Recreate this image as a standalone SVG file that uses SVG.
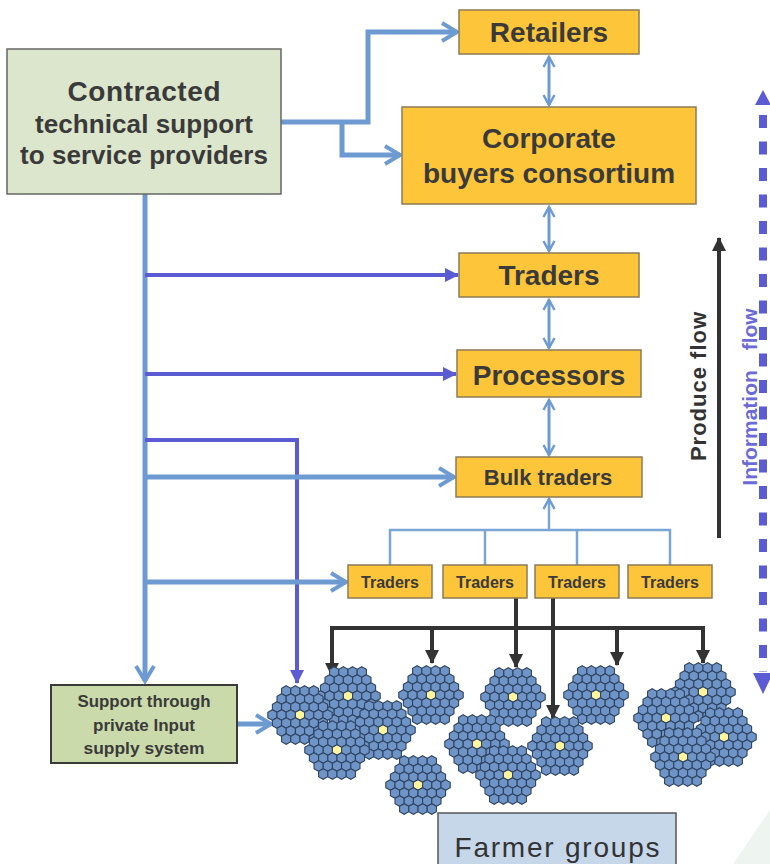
<svg xmlns="http://www.w3.org/2000/svg" xmlns:xlink="http://www.w3.org/1999/xlink" width="770" height="864" viewBox="0 0 770 864">
<style>
.t{font-family:"Liberation Sans",Arial,sans-serif;font-weight:bold;fill:#3a3a3a;text-anchor:middle}
.yb{fill:#fcc53a;stroke:#8c7b55;stroke-width:1.5}
.lb{fill:none;stroke:#6d9bd1;stroke-width:5}
.lbt{fill:none;stroke:#6d9bd1;stroke-width:3}
.tr{fill:none;stroke:#7aa6d6;stroke-width:2.5}
.pu{fill:none;stroke:#5b5bd4;stroke-width:4}
.bk{fill:none;stroke:#333;stroke-width:4}
.hx{fill:#6f95c8;stroke:#2f4460;stroke-width:1.1}
.hy{fill:#fff59d;stroke:#2f4460;stroke-width:1.1}
</style>
<defs>
<marker id="chL" markerUnits="userSpaceOnUse" viewBox="0 0 22 22" markerWidth="22" markerHeight="22" refX="19" refY="11" orient="auto-start-reverse"><path d="M4,2 L19,11 L4,20" fill="none" stroke="#6d9bd1" stroke-width="4"/></marker>
<marker id="chS" markerUnits="userSpaceOnUse" viewBox="0 0 14 14" markerWidth="14" markerHeight="14" refX="12" refY="7" orient="auto-start-reverse"><path d="M2,1.5 L12,7 L2,12.5" fill="none" stroke="#6d9bd1" stroke-width="2.5"/></marker>
<marker id="trP" markerUnits="userSpaceOnUse" viewBox="0 0 14 14" markerWidth="14" markerHeight="14" refX="13" refY="7" orient="auto"><path d="M0,0 L14,7 L0,14 Z" fill="#5b5bd4"/></marker>
<marker id="trK" markerUnits="userSpaceOnUse" viewBox="0 0 14 14" markerWidth="14" markerHeight="14" refX="13" refY="7" orient="auto"><path d="M0,0 L14,7 L0,14 Z" fill="#333"/></marker>
<polygon id="h" class="hx" points="0,-5.3 4.6,-2.65 4.6,2.65 0,5.3 -4.6,2.65 -4.6,-2.65"/>
<polygon id="hyel" class="hy" points="0,-5.3 4.6,-2.65 4.6,2.65 0,5.3 -4.6,2.65 -4.6,-2.65"/>
<g id="cl">
<use xlink:href="#h" x="-13.8" y="-24"/><use xlink:href="#h" x="-4.6" y="-24"/><use xlink:href="#h" x="4.6" y="-24"/><use xlink:href="#h" x="13.8" y="-24"/>
<use xlink:href="#h" x="-18.4" y="-16"/><use xlink:href="#h" x="-9.2" y="-16"/><use xlink:href="#h" x="0" y="-16"/><use xlink:href="#h" x="9.2" y="-16"/><use xlink:href="#h" x="18.4" y="-16"/>
<use xlink:href="#h" x="-23" y="-8"/><use xlink:href="#h" x="-13.8" y="-8"/><use xlink:href="#h" x="-4.6" y="-8"/><use xlink:href="#h" x="4.6" y="-8"/><use xlink:href="#h" x="13.8" y="-8"/><use xlink:href="#h" x="23" y="-8"/>
<use xlink:href="#h" x="-27.6" y="0"/><use xlink:href="#h" x="-18.4" y="0"/><use xlink:href="#h" x="-9.2" y="0"/><use xlink:href="#hyel" x="0" y="0"/><use xlink:href="#h" x="9.2" y="0"/><use xlink:href="#h" x="18.4" y="0"/><use xlink:href="#h" x="27.6" y="0"/>
<use xlink:href="#h" x="-23" y="8"/><use xlink:href="#h" x="-13.8" y="8"/><use xlink:href="#h" x="-4.6" y="8"/><use xlink:href="#h" x="4.6" y="8"/><use xlink:href="#h" x="13.8" y="8"/><use xlink:href="#h" x="23" y="8"/>
<use xlink:href="#h" x="-18.4" y="16"/><use xlink:href="#h" x="-9.2" y="16"/><use xlink:href="#h" x="0" y="16"/><use xlink:href="#h" x="9.2" y="16"/><use xlink:href="#h" x="18.4" y="16"/>
<use xlink:href="#h" x="-13.8" y="24"/><use xlink:href="#h" x="-4.6" y="24"/><use xlink:href="#h" x="4.6" y="24"/><use xlink:href="#h" x="13.8" y="24"/>
</g>
</defs>
<rect x="0" y="0" width="770" height="864" fill="#ffffff"/>
<polygon points="733,864 770,810 770,864" fill="#eef5f1"/>

<g id="connectors">
<path class="lb" d="M281,122 H368 V32 H457" marker-end="url(#chL)"/>
<path class="lb" d="M342,122 V155 H400" marker-end="url(#chL)"/>
<path class="lb" d="M145,194 V681" marker-end="url(#chL)"/>
<path class="pu" d="M145,275 H458" marker-end="url(#trP)"/>
<path class="pu" d="M145,374 H456" marker-end="url(#trP)"/>
<path class="pu" d="M145,440 H297 V683" marker-end="url(#trP)"/>
<path class="lb" d="M145,477 H454" marker-end="url(#chL)"/>
<path class="lb" d="M145,582 H346" marker-end="url(#chL)"/>
<path class="lb" d="M237,724 H271" marker-end="url(#chL)"/>
<path class="lbt" d="M549,57 V105" marker-start="url(#chS)" marker-end="url(#chS)"/>
<path class="lbt" d="M549,207 V251" marker-start="url(#chS)" marker-end="url(#chS)"/>
<path class="lbt" d="M549,300 V348" marker-start="url(#chS)" marker-end="url(#chS)"/>
<path class="lbt" d="M549,400 V455" marker-start="url(#chS)" marker-end="url(#chS)"/>
<path class="tr" d="M549,530 V499" marker-end="url(#chS)"/>
<path class="tr" d="M390,565 V530 H670 V565 M485,530 V565 M577,530 V565"/>
<path class="bk" d="M516,598 V667" marker-end="url(#trK)"/>
<path class="bk" d="M553,598 V718" marker-end="url(#trK)"/>
<path class="bk" d="M332,676 V628 H703 V663" marker-end="url(#trK)"/>
<path class="bk" d="M332,640 V676" marker-end="url(#trK)"/>
<path class="bk" d="M432,628 V663" marker-end="url(#trK)"/>
<path class="bk" d="M617,628 V665" marker-end="url(#trK)"/>
<path d="M719,538 V238" stroke="#333" stroke-width="4" fill="none" marker-end="url(#trK)"/>
<line x1="763" y1="115" x2="763" y2="672" stroke="#5b5bd4" stroke-width="8" stroke-dasharray="13 13.5"/>
<polygon points="763,90 755,105 771,105" fill="#5b5bd4"/>
<polygon points="763,694 753,673 773,673" fill="#5b5bd4"/>
</g>

<g id="clusters">
<use xlink:href="#cl" x="431" y="695"/>
<use xlink:href="#cl" x="513" y="697"/>
<use xlink:href="#cl" x="596" y="695"/>
<use xlink:href="#cl" x="703" y="692"/>
<use xlink:href="#cl" x="348" y="696"/>
<use xlink:href="#cl" x="300" y="715"/>
<use xlink:href="#cl" x="383" y="730"/>
<use xlink:href="#cl" x="666" y="718"/>
<use xlink:href="#cl" x="724" y="737"/>
<use xlink:href="#cl" x="477" y="744"/>
<use xlink:href="#cl" x="560" y="746"/>
<use xlink:href="#cl" x="337" y="750"/>
<use xlink:href="#cl" x="683" y="757"/>
<use xlink:href="#cl" x="508" y="775"/>
<use xlink:href="#cl" x="418" y="785"/>
</g>

<g id="contracted">
<rect x="7" y="49" width="274" height="145" fill="#dce6cc" stroke="#666" stroke-width="1.5"/>
<text class="t" x="144" y="101" font-size="28" textLength="153" lengthAdjust="spacing">Contracted</text>
<text class="t" x="144" y="133" font-size="26" textLength="218" lengthAdjust="spacing">technical support</text>
<text class="t" x="144" y="164" font-size="26" textLength="248" lengthAdjust="spacing">to service providers</text>
</g>
<g id="retailers">
<rect class="yb" x="459" y="10" width="180" height="44"/>
<text class="t" x="549" y="42" font-size="28">Retailers</text>
</g>
<g id="corporate">
<rect class="yb" x="402" y="107" width="294" height="97"/>
<text class="t" x="549" y="148" font-size="28">Corporate</text>
<text class="t" x="549" y="183" font-size="28">buyers consortium</text>
</g>
<g id="traders">
<rect class="yb" x="459" y="253" width="180" height="44"/>
<text class="t" x="549" y="285" font-size="28">Traders</text>
</g>
<g id="processors">
<rect class="yb" x="457" y="350" width="184" height="47"/>
<text class="t" x="549" y="385" font-size="28">Processors</text>
</g>
<g id="bulk">
<rect class="yb" x="456" y="457" width="186" height="40"/>
<text class="t" x="548" y="485" font-size="22">Bulk traders</text>
</g>
<g id="traders1">
<rect class="yb" x="348" y="565" width="84" height="33"/>
<text class="t" x="390" y="588" font-size="16">Traders</text>
</g>
<g id="traders2">
<rect class="yb" x="443" y="565" width="84" height="33"/>
<text class="t" x="485" y="588" font-size="16">Traders</text>
</g>
<g id="traders3">
<rect class="yb" x="535" y="565" width="84" height="33"/>
<text class="t" x="577" y="588" font-size="16">Traders</text>
</g>
<g id="traders4">
<rect class="yb" x="628" y="565" width="84" height="33"/>
<text class="t" x="670" y="588" font-size="16">Traders</text>
</g>
<g id="support">
<rect x="51" y="685" width="186" height="78" fill="#cbdaaa" stroke="#3a3a3a" stroke-width="2"/>
<text class="t" x="144" y="707" font-size="16.5" textLength="133" lengthAdjust="spacingAndGlyphs">Support through</text>
<text class="t" x="144" y="731" font-size="16.5" textLength="102" lengthAdjust="spacingAndGlyphs">private Input</text>
<text class="t" x="144" y="754" font-size="16.5" textLength="121" lengthAdjust="spacingAndGlyphs">supply system</text>
</g>
<g id="farmer">
<rect x="438" y="813" width="238" height="56" fill="#c6d7ea" stroke="#555" stroke-width="1.5"/>
<text x="557" y="857" font-family="Liberation Sans, Arial, sans-serif" font-size="28" fill="#333" text-anchor="middle" textLength="205" lengthAdjust="spacing">Farmer groups</text>
</g>
<g id="labels">
<text class="t" transform="translate(706,386) rotate(-90)" font-size="22" style="fill:#333" letter-spacing="1">Produce flow</text>
<text class="t" transform="translate(757,397) rotate(-90)" font-size="21" style="fill:#6b6bd6" word-spacing="14">Information flow</text>
</g>
</svg>
